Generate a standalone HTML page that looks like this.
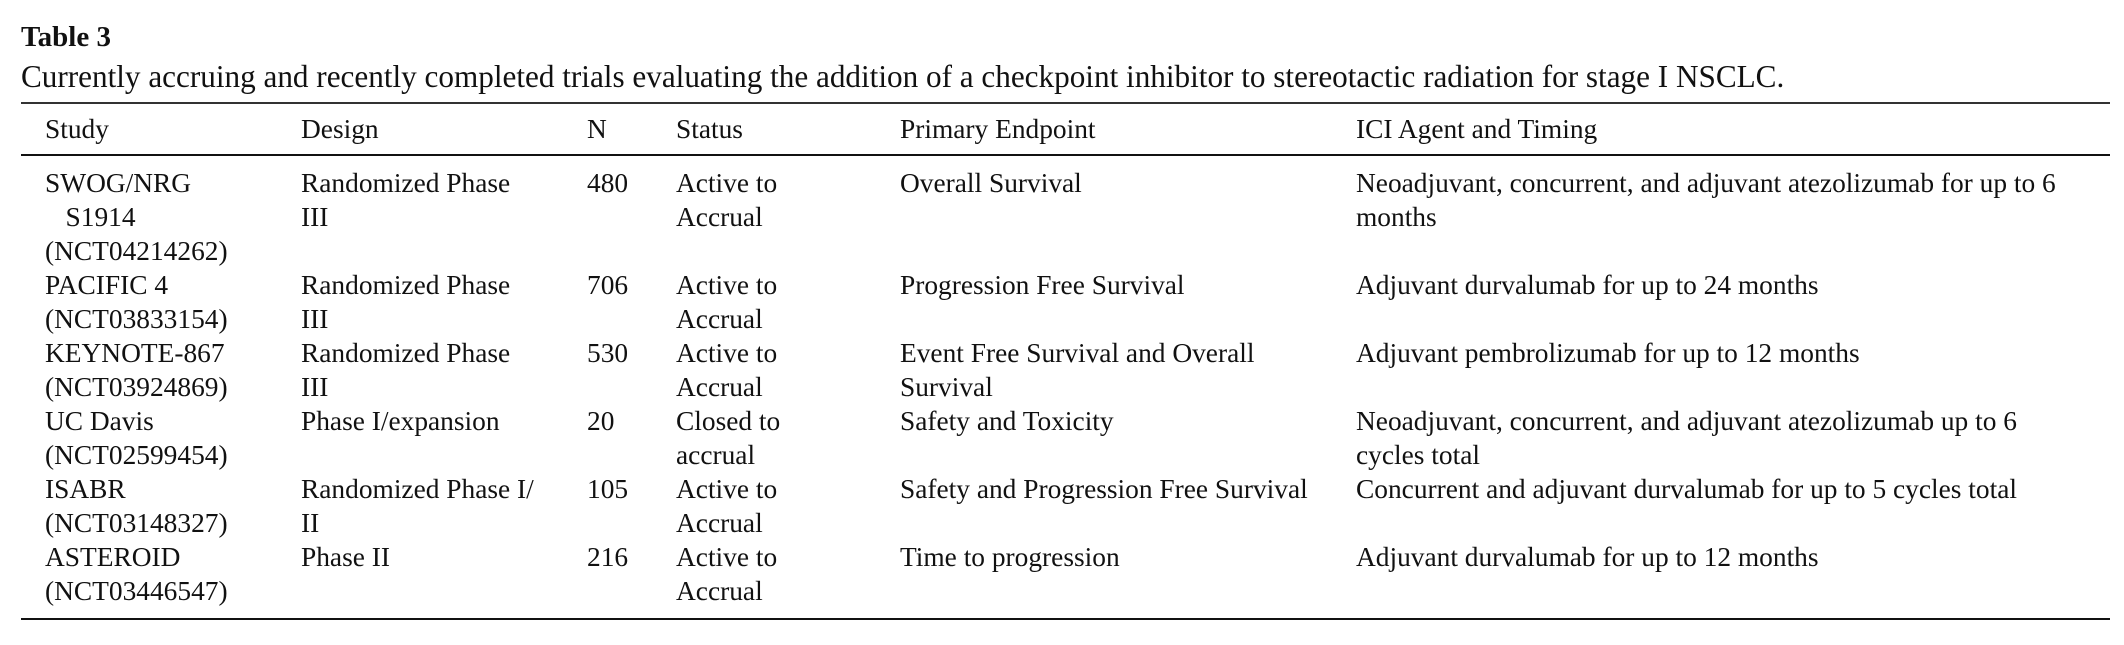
<!DOCTYPE html>
<html><head><meta charset="utf-8"><style>
body{margin:0;width:2124px;height:645px;background:#fff;position:relative;overflow:hidden;font-family:"Liberation Serif",serif;color:#111}
.t{position:absolute;font-size:27.4px;line-height:34px;white-space:nowrap}
.r{position:absolute;left:21px;width:2089px;background:#111}
</style></head><body>
<div class="t" style="left:21px;top:20px;font-weight:bold;font-size:29px">Table 3</div>
<div class="t" style="left:21px;top:60px;font-size:31.2px">Currently accruing and recently completed trials evaluating the addition of a checkpoint inhibitor to stereotactic radiation for stage I NSCLC.</div>
<div class="r" style="top:102px;height:2px;background:#333"></div>
<div class="r" style="top:154px;height:2px"></div>
<div class="r" style="top:618px;height:2px"></div>
<div id="tb"></div>
<script>
const cols=[45,301,587,676,900,1356];
const header=["Study","Design","N","Status","Primary Endpoint","ICI Agent and Timing"];
const rows=[
["SWOG/NRG<br>&nbsp;&nbsp;&nbsp;S1914<br>(NCT04214262)","Randomized Phase<br>III","480","Active to<br>Accrual","Overall Survival","Neoadjuvant, concurrent, and adjuvant atezolizumab for up to 6<br>months"],
["PACIFIC 4<br>(NCT03833154)","Randomized Phase<br>III","706","Active to<br>Accrual","Progression Free Survival","Adjuvant durvalumab for up to 24 months"],
["KEYNOTE-867<br>(NCT03924869)","Randomized Phase<br>III","530","Active to<br>Accrual","Event Free Survival and Overall<br>Survival","Adjuvant pembrolizumab for up to 12 months"],
["UC Davis<br>(NCT02599454)","Phase I/expansion","20","Closed to<br>accrual","Safety and Toxicity","Neoadjuvant, concurrent, and adjuvant atezolizumab up to 6<br>cycles total"],
["ISABR<br>(NCT03148327)","Randomized Phase I/<br>II","105","Active to<br>Accrual","Safety and Progression Free Survival","Concurrent and adjuvant durvalumab for up to 5 cycles total"],
["ASTEROID<br>(NCT03446547)","Phase II","216","Active to<br>Accrual","Time to progression","Adjuvant durvalumab for up to 12 months"]
];
const rowTops=[166,268,336,404,472,540];
const tb=document.getElementById('tb');
header.forEach((h,i)=>{
 const d=document.createElement('div');d.className='t';
 
 
 d.style.left=cols[i]+'px';d.style.top='112px';d.innerHTML=h;tb.appendChild(d);
});
rows.forEach((r,ri)=>{r.forEach((c,i)=>{
 const d=document.createElement('div');d.className='t';
 
 
 d.style.left=cols[i]+'px';d.style.top=rowTops[ri]+'px';d.innerHTML=c;tb.appendChild(d);
});});
</script>
</body></html>
